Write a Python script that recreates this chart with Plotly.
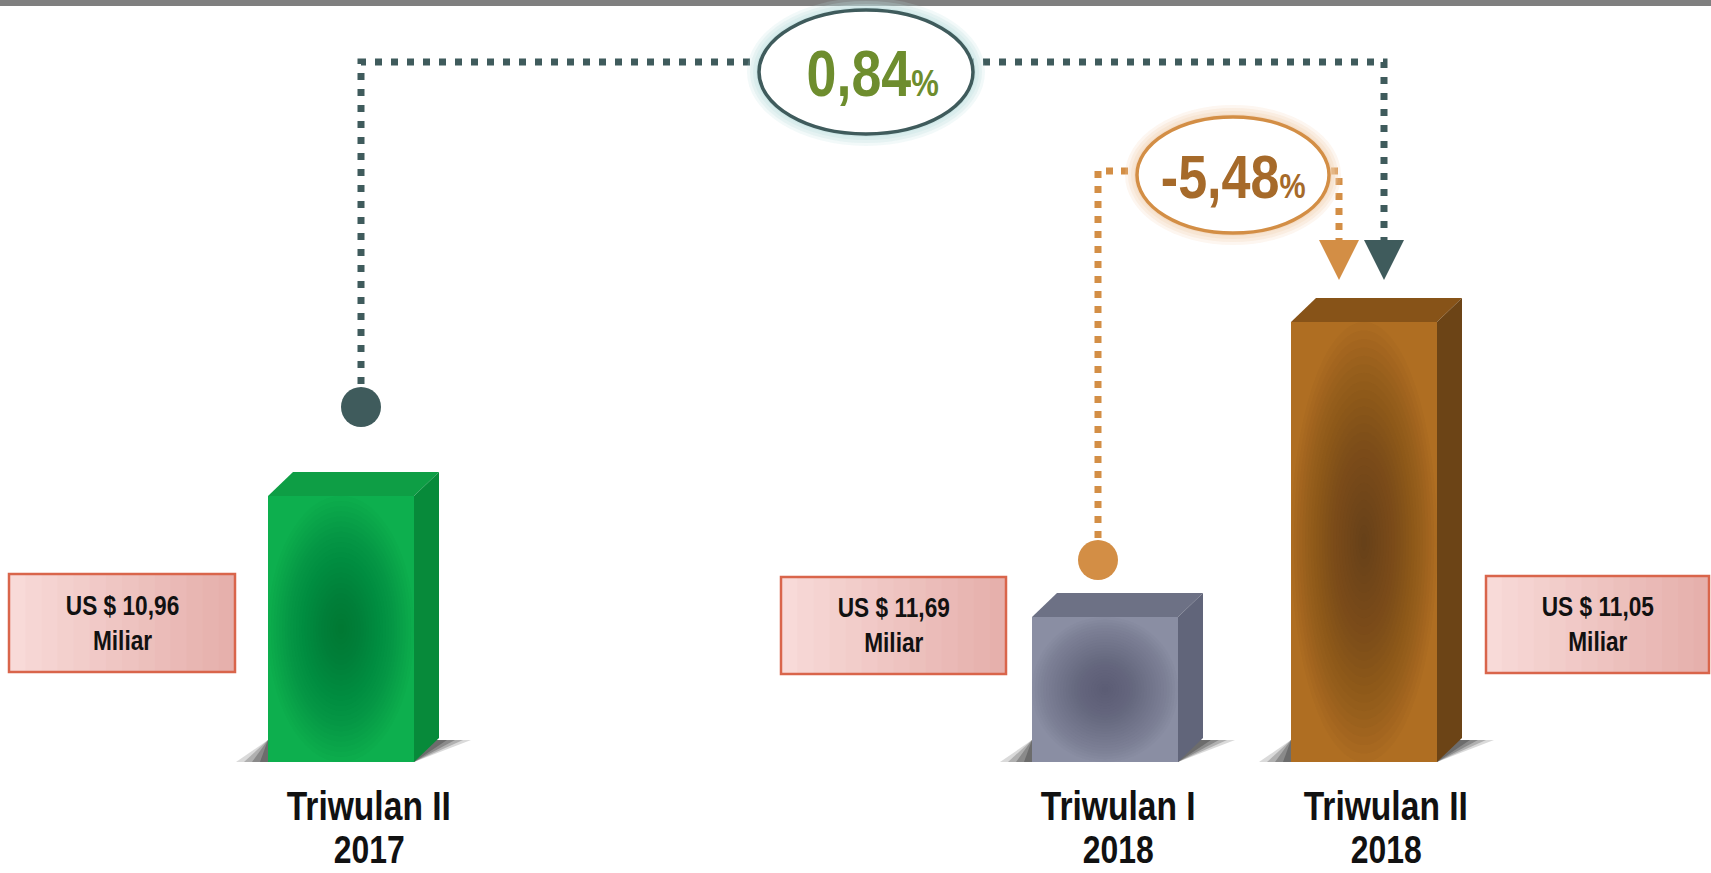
import plotly.graph_objects as go

# ---------------- data ----------------
category_names = ["Triwulan II", "Triwulan I", "Triwulan II"]
category_years = ["2017", "2018", "2018"]
values_usd_miliar = [10.96, 11.69, 11.05]          # value shown in the label boxes
bar_heights = [266, 145, 440]                       # visual front-face heights
changes_pct = [0.84, -5.48]                          # yoy (TII17 -> TII18), qoq (TI18 -> TII18)

# ---------------- layout / style constants ----------------
W, H = 1711, 873
BASE_PX = 762                      # pixel row of the bar baseline


def Y(py):
    return BASE_PX - py


bar_x = [341, 1105, 1364]          # front-face centres
bar_w = 146
depth_x, depth_y = 25, 24
front_col = ["#0DAF4E", "#8A8EA3", "#AF6E22"]
top_col = ["#0E9E45", "#6D7185", "#875318"]
side_col = ["#078A3A", "#61657A", "#6C4416"]
spot_col = ["#04622A", "#4A4C5E", "#553410"]

box_px = [(9, 235, 574, 672), (781, 1006, 577, 674), (1486, 1709, 576, 673)]
cat_x = [369, 1118, 1386]

DARK = "#3F5B5C"
ORANGE = "#D38E45"
GREEN_TXT = "#6E8D2E"
BROWN_TXT = "#A66A2A"
FONT = "Liberation Sans Narrow, Arial Narrow, Liberation Sans, Arial, sans-serif"

fig = go.Figure()

shapes = []

# top grey band
shapes.append(dict(type="rect", xref="paper", yref="paper", x0=0, x1=1,
                   y0=1 - 6 / H, y1=1, fillcolor="#7F7F7F", line_width=0, layer="above"))

# floor shadows + 3D faces + dark spot
for i, h in enumerate(bar_heights):
    x0 = bar_x[i] - bar_w / 2
    x1 = bar_x[i] + bar_w / 2
    # shadow
    for (ext, op) in [(32, 0.18), (24, 0.25), (16, 0.3), (8, 0.35)]:
        shapes.append(dict(type="path", layer="below",
                           path=f"M {x0-ext},0 L {x1},0 L {x1+depth_x+ext},{depth_y-2} L {x0},{depth_y-2} Z",
                           fillcolor="#333333", opacity=op, line_width=0))
    # top face
    shapes.append(dict(type="path", layer="above",
                       path=f"M {x0},{h} L {x1},{h} L {x1+depth_x},{h+depth_y} L {x0+depth_x},{h+depth_y} Z",
                       fillcolor=top_col[i], line_width=0))
    # side face
    shapes.append(dict(type="path", layer="above",
                       path=f"M {x1},0 L {x1+depth_x},{depth_y} L {x1+depth_x},{h+depth_y} L {x1},{h} Z",
                       fillcolor=side_col[i], line_width=0))
    # soft radial darkening on the front face
    cy = h * 0.5
    n = 26
    for k in range(n):
        f = 1 - k / n
        rx = bar_w * 0.5 * f
        ry = h * 0.5 * f
        shapes.append(dict(type="circle", layer="above", x0=bar_x[i] - rx, x1=bar_x[i] + rx,
                           y0=cy - ry, y1=cy + ry, fillcolor=spot_col[i], opacity=0.04,
                           line_width=0))

# value label boxes with a soft pink gradient
for (bx0, bx1, by0, by1) in box_px:
    nstrip = 14
    for k in range(nstrip):
        t = k / (nstrip - 1)
        r = int(248 + (230 - 248) * t)
        g = int(218 + (176 - 218) * t)
        b = int(216 + (172 - 216) * t)
        sx0 = bx0 + (bx1 - bx0) * k / nstrip
        sx1 = bx0 + (bx1 - bx0) * (k + 1) / nstrip + 0.6
        shapes.append(dict(type="rect", layer="above", x0=sx0, x1=sx1, y0=Y(by1), y1=Y(by0),
                           fillcolor=f"rgb({r},{g},{b})", line_width=0))
    shapes.append(dict(type="rect", layer="above", x0=bx0, x1=bx1, y0=Y(by1), y1=Y(by0),
                       fillcolor="rgba(0,0,0,0)", line=dict(color="#D9654B", width=2.5)))

# dotted connectors
shapes.append(dict(type="path", layer="above",
                   path=f"M 361,{Y(400)} L 361,{Y(62)} L 1384,{Y(62)} L 1384,{Y(242)}",
                   line=dict(color=DARK, width=7, dash="7px,9px")))
shapes.append(dict(type="path", layer="above",
                   path=f"M 1098,{Y(553)} L 1098,{Y(171)} L 1339,{Y(171)} L 1339,{Y(242)}",
                   line=dict(color=ORANGE, width=7, dash="7px,8px")))
# dots
shapes.append(dict(type="circle", layer="above", x0=341, x1=381, y0=Y(427), y1=Y(387),
                   fillcolor=DARK, line_width=0))
shapes.append(dict(type="circle", layer="above", x0=1078, x1=1118, y0=Y(580), y1=Y(540),
                   fillcolor=ORANGE, line_width=0))
# arrow heads
shapes.append(dict(type="path", layer="above",
                   path=f"M 1364,{Y(240)} L 1404,{Y(240)} L 1384,{Y(280)} Z",
                   fillcolor=DARK, line_width=0))
shapes.append(dict(type="path", layer="above",
                   path=f"M 1319,{Y(240)} L 1359,{Y(240)} L 1339,{Y(280)} Z",
                   fillcolor=ORANGE, line_width=0))

# ellipses with glow
for (cx, cy, rx, ry, glow, edge) in [(866, 72, 107, 62, "#BFE0E0", DARK),
                                     (1233, 175, 96, 58, "#F3D3B3", ORANGE)]:
    for g, op in [(12, 0.2), (9, 0.25), (6, 0.3), (3, 0.4)]:
        shapes.append(dict(type="circle", layer="above", x0=cx - rx - g, x1=cx + rx + g,
                           y0=Y(cy + ry + g), y1=Y(cy - ry - g), fillcolor=glow, opacity=op,
                           line_width=0))
    shapes.append(dict(type="circle", layer="above", x0=cx - rx, x1=cx + rx,
                       y0=Y(cy + ry), y1=Y(cy - ry), fillcolor="white",
                       line=dict(color=edge, width=3.5)))

# front faces as bars
fig.add_trace(go.Bar(x=bar_x, y=bar_heights, width=bar_w, base=0,
                     marker=dict(color=front_col, line_width=0),
                     hoverinfo="skip", showlegend=False))

annotations = []


def fmt(v):
    return f"{v:.2f}".replace(".", ",")


for i, v in enumerate(values_usd_miliar):
    bx0, bx1, by0, by1 = box_px[i]
    annotations.append(dict(x=(bx0 + bx1) / 2, y=Y((by0 + by1) / 2), xref="x", yref="y",
                            text=f"<b>US $ {fmt(v)}<br>Miliar</b>", showarrow=False,
                            font=dict(family=FONT, size=27, color="#111111"),
                            align="center", xanchor="center", yanchor="middle"))
    annotations.append(dict(x=cat_x[i], y=Y(806), xref="x", yref="y",
                            text=f"<b>{category_names[i]}</b>", showarrow=False,
                            font=dict(family=FONT, size=40, color="#111111"),
                            xanchor="center", yanchor="middle"))
    annotations.append(dict(x=cat_x[i], y=Y(850), xref="x", yref="y",
                            text=f"<b>{category_years[i]}</b>", showarrow=False,
                            font=dict(family=FONT, size=38, color="#111111"),
                            xanchor="center", yanchor="middle"))

for (val, cx, cy, col, size) in [(changes_pct[0], 872, 74, GREEN_TXT, 64),
                                 (changes_pct[1], 1233, 176, BROWN_TXT, 62)]:
    annotations.append(dict(x=cx, y=Y(cy), xref="x", yref="y",
                            text=f"<b>{fmt(val)}<span style='font-size:{int(size*0.58)}px'>%</span></b>",
                            showarrow=False, font=dict(family=FONT, size=size, color=col),
                            xanchor="center", yanchor="middle"))

fig.update_layout(
    width=W, height=H,
    margin=dict(l=0, r=0, t=0, b=0),
    paper_bgcolor="white", plot_bgcolor="white",
    xaxis=dict(range=[0, W], visible=False, fixedrange=True),
    yaxis=dict(range=[Y(H), Y(0)], visible=False, fixedrange=True),
    shapes=shapes, annotations=annotations,
    showlegend=False, bargap=0,
)

# narrow the (Arial-Narrow-style) lettering horizontally, the installed fonts having no narrow face
post = """
document.body.style.margin='0';
document.querySelectorAll('.annotation-text-g text').forEach(function(t){
  t.style.transformBox='fill-box';
  t.style.transformOrigin='center';
  t.style.transform='scaleX(0.84)';
});
"""

fig.write_html("out.html", config={"displayModeBar": False}, post_script=post)
